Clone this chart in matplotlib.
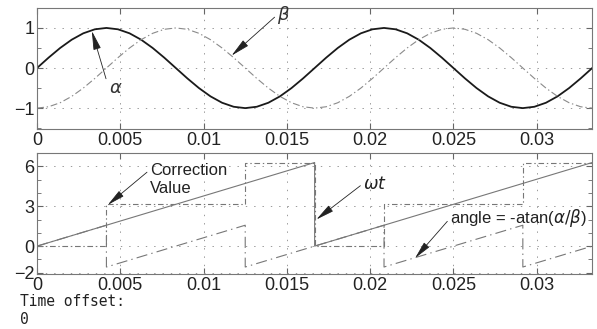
import matplotlib
matplotlib.use("Agg")
import matplotlib.pyplot as plt
import numpy as np

plt.rcParams["font.family"] = ["Liberation Sans", "DejaVu Sans"]
plt.rcParams["mathtext.fontset"] = "dejavusans"
plt.rcParams["lines.scale_dashes"] = False

# top panel: alpha / beta sampled every 15 degrees of a 60 Hz cycle
t_step = 1 / 1440
alpha = [0, .259, .5, .707, .866, .966, 1, .966, .866, .707, .5, .259,
         0, -.259, -.5, -.707, -.866, -.966, -1, -.966, -.866, -.707, -.5, -.259,
         0, .259, .5, .707, .866, .966, 1, .966, .866, .707, .5, .259,
         0, -.259, -.5, -.707, -.866, -.966, -1, -.966, -.866, -.707, -.5, -.259,
         0]
beta = [-1, -.966, -.866, -.707, -.5, -.259, 0, .259, .5, .707, .866, .966,
        1, .966, .866, .707, .5, .259, 0, -.259, -.5, -.707, -.866, -.966,
        -1, -.966, -.866, -.707, -.5, -.259, 0, .259, .5, .707, .866, .966,
        1, .966, .866, .707, .5, .259, 0, -.259, -.5, -.707, -.866, -.966,
        -1]
t_top = np.arange(len(alpha)) * t_step

# bottom panel: breakpoints of the piecewise-linear signals
t_wt = [0, 0.016667, 0.016667, 0.033333]
wt = [0, 6.2832, 0, 6.2832]
t_corr = [0, .004167, .004167, .0125, .0125, .016667, .016667, .020833,
          .020833, .029167, .029167, .033333]
corr = [0, 0, 3.1416, 3.1416, 6.2832, 6.2832, 0, 0, 3.1416, 3.1416, 6.2832, 6.2832]
t_ang = [0, .004167, .004167, .0125, .0125, .020833, .020833, .029167, .029167, .033333]
ang = [0, 1.5708, -1.5708, 1.5708, -1.5708, 1.5708, -1.5708, 1.5708, -1.5708, 0]

xticks = [0, 0.005, 0.01, 0.015, 0.02, 0.025, 0.03]
xlabels = ["0", "0.005", "0.01", "0.015", "0.02", "0.025", "0.03"]

fig = plt.figure(figsize=(5.97, 3.29), dpi=100)
ax1 = fig.add_axes([0.062, 0.608, 0.930, 0.368])
ax2 = fig.add_axes([0.062, 0.167, 0.930, 0.368])

grid_kw = dict(color="#999999", linestyle=(0, (1, 5)), linewidth=0.7)
arrow_kw = dict(arrowstyle="-|>,head_length=0.9,head_width=0.18", color="#222222",
                lw=0.6, shrinkA=0, shrinkB=0)

for ax in (ax1, ax2):
    ax.set_xlim(0, 0.033333)
    ax.set_xticks(xticks)
    ax.set_xticklabels(xlabels)
    ax.tick_params(which="both", direction="in", top=True, right=True,
                   labelsize=13, color="#666666", labelcolor="#222222", pad=2)
    ax.tick_params(which="major", length=4)
    ax.tick_params(which="minor", length=3)
    ax.grid(True, which="major", **grid_kw)
    for s in ax.spines.values():
        s.set_color("#777777")
        s.set_linewidth(0.8)

ax1.plot(t_top, alpha, color="#1a1a1a", lw=1.3, solid_joinstyle="round")
ax1.plot(t_top, beta, color="#8a8a8a", lw=0.8, linestyle=(0, (5, 2, 1, 2)))
ax1.set_ylim(-1.52, 1.5)
ax1.set_yticks([-1, 0, 1])
ax1.set_yticklabels(["\u22121", "0", "1"])
ax1.set_yticks([-1.5, -0.5, 0.5, 1.5], minor=True)

ax1.annotate(r"$\alpha$", xy=(0.00329, 0.925), xytext=(0.00431, -0.5),
             ha="left", va="center", fontsize=13, color="#333333",
             arrowprops=dict(arrow_kw, relpos=(0, 0.5)))
ax1.annotate(r"$\beta$", xy=(0.01168, 0.31), xytext=(0.01443, 1.33),
             ha="left", va="center", fontsize=13, color="#333333",
             arrowprops=dict(arrow_kw, relpos=(0, 0.5)))

ax2.plot(t_wt, wt, color="#777777", lw=0.8)
ax2.plot(t_corr, corr, color="#777777", lw=0.8, linestyle=(0, (4, 2, 1, 2)))
ax2.plot(t_ang, ang, color="#777777", lw=0.8, linestyle=(0, (8, 3, 1, 3)))
ax2.set_ylim(-2.1, 7.0)
ax2.set_yticks([-2, 0, 3, 6])
ax2.set_yticklabels(["\u22122", "0", "3", "6"])
ax2.set_yticks([-1, 1, 2, 4, 5], minor=True)

ax2.annotate("Correction\nValue", xy=(0.00425, 3.1), xytext=(0.00677, 5.0),
             ha="left", va="center", fontsize=12, color="#222222", linespacing=1.2,
             arrowprops=dict(arrow_kw, relpos=(0, 0.8)))
ax2.annotate(r"$\omega t$", xy=(0.01677, 2.0), xytext=(0.01958, 4.7),
             ha="left", va="center", fontsize=12.5, color="#222222",
             arrowprops=dict(arrow_kw, relpos=(0, 0.5)))
ax2.annotate(r"angle = -atan($\alpha/\beta$)", xy=(0.0227, -0.9), xytext=(0.0248, 2.1),
             ha="left", va="center", fontsize=12, color="#222222",
             arrowprops=dict(arrow_kw, relpos=(0, 0.5)))

fig.text(0.034, 0.084, "Time offset:", family="DejaVu Sans Mono", fontsize=10.5,
         ha="left", va="center", color="#222222")
fig.text(0.034, 0.030, "0", family="DejaVu Sans Mono", fontsize=10.5,
         ha="left", va="center", color="#222222")

fig.savefig("out.png", dpi=100)
